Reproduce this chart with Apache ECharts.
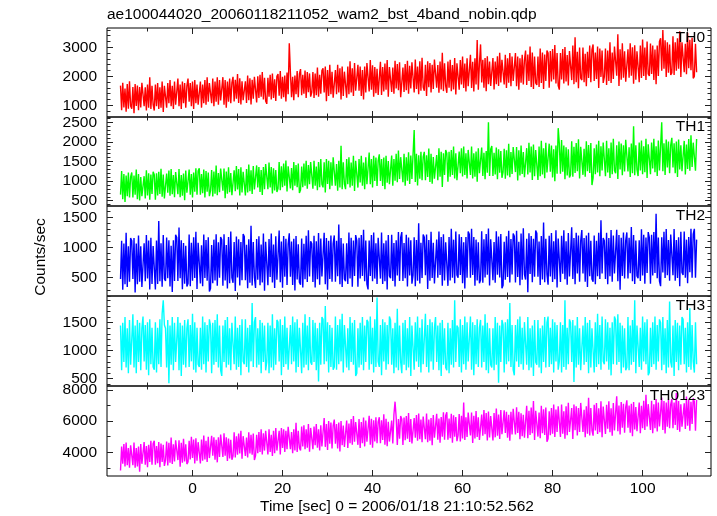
<!DOCTYPE html>
<html><head><meta charset="utf-8">
<script src="https://cdn.jsdelivr.net/npm/echarts@6/dist/echarts.min.js"></script>
<style>html,body{margin:0;padding:0;background:#fff}#c{width:717px;height:516px}</style>
</head><body><div id="c"></div>
<script>
// time grid of the light curves (seconds from 2006/01/18 21:10:52.562)
const tStart = -16, tStep = 0.25;

const th0 = [
1680,830,1780,930,1580,780,1730,880,1830,980,880,1630,730,1730,980,1680,830,1630,930,1780,
1770,970,1620,820,1720,920,1970,870,1670,1020,820,1720,970,1770,870,1620,920,1820,770,1670,
1720,920,1770,1070,1870,970,1670,870,1820,1020,1020,1920,970,1720,870,1820,1070,1770,920,1670,
1920,1120,1770,970,1820,870,1870,1070,1720,1020,970,1820,920,1720,1070,1870,1020,1970,1120,1770,
1770,1070,1920,970,1820,1120,1970,1020,1870,1170,1170,1970,1020,1870,920,1820,1120,1920,1070,1770,
1980,1130,1880,1230,2080,1080,1930,1030,1830,1180,1130,1830,1080,2030,1180,1930,1030,1880,1230,1980,
1950,1100,2000,1250,2050,1300,2150,1200,1950,1150,1050,1950,1300,2050,1200,2100,1250,1900,1150,2000,
2080,1330,2180,1230,1980,1280,2030,1130,2130,1380,3140,2130,1280,1980,1180,2030,1380,2180,1280,2080,
2250,1350,2050,1400,2200,1250,2150,1450,2100,1300,1450,2150,1250,2100,1350,2300,1300,2050,1400,2200,
2280,1440,2340,1140,2220,1320,2400,1380,2160,1260,1260,2220,1380,2400,1440,2280,1200,2340,1320,2160,
2220,1260,2340,1380,2520,1440,2280,1320,2460,1500,1440,2400,1500,2340,1320,2220,1200,2340,1440,2460,
2440,1480,2560,1540,2380,1300,2320,1420,2260,1360,1420,2500,1360,2320,1480,2440,1540,2560,1300,2320,
2360,1460,2300,1400,2540,1580,2420,1520,2480,1280,1340,2300,1460,2420,1520,2540,1400,2360,1580,2480,
2460,1440,2580,1560,2340,1380,2520,1500,2640,1620,1500,2400,1320,2520,1620,2460,1440,2400,1560,2580,
2570,1610,2390,1430,2510,1550,2810,1490,2450,1670,1430,2510,1610,2570,1490,2390,1550,2630,1370,2450,
2500,1540,2560,1720,2680,1600,2440,1480,2620,1660,1660,2740,1600,2500,1480,2620,1720,3250,1540,2440,
3100,1790,2570,1610,2630,1490,2690,1730,2510,1670,1610,2630,1550,2510,1730,2690,1670,2810,1790,2570,
2560,1720,2740,1600,2620,1780,2800,1660,2680,1840,1840,2800,1660,2680,1540,2620,1780,2740,1720,2560,
2890,1700,2750,1840,3030,1630,2820,1560,2680,1770,1700,2680,1630,2960,1770,2820,1560,2750,1840,2890,
2800,1610,2870,1820,2940,1890,3080,1750,2800,1680,1540,2800,1890,2940,1750,3010,1820,2730,1680,2870,
2920,1870,3060,1730,3350,1800,2850,1590,2990,1940,1870,2990,1800,2780,1660,2850,1940,3060,1800,2920,
3100,1840,2820,1910,3030,1600,2960,1980,2890,1770,1980,2960,1700,2890,1840,3170,1770,2820,1910,3030,
3000,2020,3450,1670,2930,1880,3140,1950,2860,1810,1810,2930,1950,3140,2020,3000,1740,3070,1880,2860,
2920,1800,3060,1940,3270,2010,2990,1870,3200,2080,2010,3130,2080,3060,1870,2920,1730,3060,2010,3200,
3310,2190,3600,2260,3240,1980,3170,2120,3100,2050,2120,3380,2050,3170,2190,3310,2260,3550,1980,3170,
3190,2140,3120,2070,3500,2280,3260,2210,3330,1930,2000,3120,2140];

const th1 = [
655,1255,540,1180,465,1145,615,1220,580,1105,1220,580,1145,655,1295,540,1180,505,1105,615,
600,1125,560,1275,635,1200,525,1165,675,1240,1165,525,1200,635,1240,675,1315,600,1165,560,
515,1195,705,1270,630,1305,665,1155,590,1230,1230,665,1305,590,1155,630,1195,515,1270,705,
690,1295,655,1180,580,1220,730,1330,655,1255,1330,655,1180,690,1295,580,1255,730,1220,615,
755,1280,605,1245,680,1395,640,1205,715,1320,1280,755,1320,565,1245,680,1355,715,1205,640,
670,1275,745,1385,785,1310,635,1350,710,1235,1235,635,1310,710,1425,745,1275,670,1385,785,
795,1400,835,1360,720,1285,645,1360,795,1435,1400,795,1475,835,1360,685,1325,760,1285,720,
810,1485,770,1375,845,1450,885,1525,735,1375,1375,810,1335,770,1485,885,1410,845,1450,695,
770,1370,845,1445,880,1520,805,1410,920,1485,1445,805,1520,880,1370,770,1485,845,1560,920,
840,1480,710,1565,925,1520,795,1480,880,1605,1565,880,1435,755,1520,840,1900,795,1480,925,
795,1560,920,1605,835,1475,880,1645,750,1520,1520,835,1560,965,1645,880,1475,795,1605,920,
960,1730,920,1560,835,1645,1005,1600,875,1515,1685,1005,1560,875,1600,790,1645,960,1515,920,
925,1650,885,1565,1010,1695,970,1780,1055,1610,1565,970,1695,885,1610,1010,1735,925,1650,1055,
1105,2300,975,1700,890,1660,1060,1745,1020,1615,1745,1020,1660,1105,1830,975,1700,935,1615,1060,
1070,1665,1025,1835,1110,1750,850,1710,1155,1795,1710,985,1750,1110,1795,1155,1880,1070,1710,1025,
985,1755,1200,1840,1115,1880,1155,1710,1070,1795,1795,1155,1880,1070,1710,1115,1755,985,1840,1200,
1170,1855,1130,1725,1045,1770,1215,2500,1130,1810,1895,1130,1725,1170,1855,1045,1810,1215,1770,1085,
1230,1825,1060,1785,1145,1955,1100,1740,1185,1870,1825,1230,1870,1015,1785,1145,1910,1185,1740,1100,
1075,1840,1170,1980,1220,1885,1030,1935,1125,1790,1790,1030,1885,1125,2030,1170,1840,1075,1980,1220,
1190,1955,1240,1905,1095,1810,1000,1905,1190,2350,1955,1190,2050,1240,1905,1050,1860,1145,1810,1095,
1160,2015,1110,1875,1205,1970,1255,2065,1065,1875,1875,1160,1825,1110,2015,1255,1920,1205,1970,900,
1080,1840,1175,1935,1220,2030,1125,1890,1270,1985,1935,1125,2030,1220,1840,1080,1985,1175,2080,1270,
1200,1915,1055,2010,1295,1960,1150,1915,1245,2055,2010,1245,1865,1105,1960,1200,2400,1150,1915,1295,
1130,1985,1270,2035,1175,1890,1225,2080,1080,1940,1940,1175,1985,1320,2080,1225,1890,1130,2035,1270,
1295,2500,1250,1965,1155,2060,1345,2010,1200,1915,2105,1345,1965,1200,2010,1105,2060,1295,1915,1250,
1215,2025,1170,1930,1310,2075,1265,2170,1360,1980,1930,1265,2075];

const th2 = [
480,1110,300,1065,390,1245,345,1020,435,1155,1110,480,1155,255,1065,390,1200,435,1020,345,
350,1070,440,1205,485,1115,305,1160,395,1025,1025,305,1115,395,1440,440,1070,350,1205,485,
445,1165,490,1120,355,1030,265,1120,445,1210,1165,445,1330,490,1120,310,1075,400,1030,355,
405,1215,360,1080,450,1170,495,1260,315,1080,1080,405,1035,360,1215,495,1125,450,1170,270,
320,1040,410,1130,455,1220,365,1085,500,1175,1130,365,1220,455,1040,320,1175,410,1265,500,
415,1090,280,1180,505,1135,370,1090,460,1225,1180,460,1045,325,1135,415,1360,370,1090,505,
330,1140,465,1185,375,1050,420,1230,285,1095,1095,375,1140,510,1230,420,1050,330,1185,465,
470,1280,425,1100,335,1190,515,1145,380,1055,1235,515,1100,380,1145,290,1190,470,1055,425,
385,1150,340,1060,475,1195,430,1285,520,1105,1060,430,1195,340,1105,475,1240,385,1150,520,
525,1245,390,1155,300,1110,480,1200,435,1065,1200,435,1110,525,1380,390,1155,345,1065,480,
440,1070,395,1250,485,1160,350,1115,530,1205,1115,350,1160,485,1205,530,1295,440,1115,395,
305,1115,530,1205,440,1250,485,1070,395,1160,1160,485,1250,395,1070,440,1115,305,1205,530,
490,1210,445,1075,355,1120,535,1255,445,1165,1255,445,1075,490,1210,355,1165,535,1120,400,
540,1170,360,1125,450,1400,405,1080,495,1215,1170,540,1215,315,1125,450,1260,495,1080,405,
410,1130,500,1265,545,1175,365,1220,455,1085,1085,365,1175,455,1310,500,1130,410,1265,545,
500,1220,545,1175,410,1085,320,1175,500,1265,1220,500,1310,545,1175,365,1130,455,1085,410,
460,1270,415,1135,505,1225,550,1315,370,1135,1135,460,1090,415,1270,550,1180,505,1225,325,
375,1095,465,1185,510,1275,420,1140,555,1230,1185,420,1275,510,1095,375,1230,465,1320,555,
470,1145,260,1235,560,1190,425,1145,515,1280,1235,515,1100,380,1190,470,1415,425,1145,560,
385,1195,520,1240,430,1105,475,1285,340,1150,1150,430,1195,565,1285,475,1105,385,1240,520,
525,1335,480,1155,390,1245,570,1200,435,1110,1290,570,1155,435,1200,345,1245,525,1110,480,
435,1200,390,1110,525,1245,480,1450,570,1155,1110,480,1245,390,1155,525,1290,435,1200,570,
575,1295,440,1205,300,1160,530,1250,485,1115,1250,485,1160,575,1340,440,1205,395,1115,530,
490,1120,445,1300,535,1210,400,1165,580,1255,1165,400,1210,535,1255,580,1560,490,1165,445,
360,1170,585,1260,495,1305,540,1125,450,1215,1215,540,1305,450,1125,495,1170,360,1260,585,
545,1265,500,1130,410,1175,590,1310,500,1220,1310,500,1130];

const th3 = [
1450,650,1500,800,1600,700,1400,600,1550,750,750,1650,700,1450,600,1550,800,1500,650,1400,
1610,810,1460,660,1510,560,1560,760,1410,710,660,1510,610,1410,760,1560,710,1660,1900,1460,
1400,700,1550,420,1450,750,1600,650,1500,800,800,1600,650,1500,550,1450,750,1550,700,1400,
1560,710,1460,810,1660,660,1510,610,1410,760,710,1410,660,1610,760,1510,610,1460,810,1560,
1450,600,1500,750,1550,800,1650,700,1450,650,550,1450,800,1550,700,1600,750,1400,650,1500,
1510,760,1610,660,1410,710,1460,560,1560,810,760,1560,710,1410,610,1460,810,1850,710,1510,
1600,700,1400,750,1550,600,1500,800,1450,650,800,1500,600,1450,700,1650,650,1400,750,1550,
1510,810,1560,560,1460,710,1610,760,1410,660,660,1460,760,1610,810,1510,610,1560,710,1410,
1400,600,1500,700,1650,750,1450,650,1600,800,750,1550,800,1500,650,1400,450,1500,750,1600,
1560,760,1800,810,1510,610,1460,710,1410,660,710,1610,660,1460,760,1560,810,1660,610,1460,
1450,700,1400,650,1600,800,1500,750,1550,550,600,1400,700,1500,750,1600,650,1450,800,1550,
1510,660,1610,760,1410,610,1560,710,1950,810,710,1460,560,1560,810,1510,660,1460,760,1610,
1550,750,1400,600,1500,700,1750,650,1450,800,600,1500,750,1550,650,1400,700,1600,550,1450,
1460,660,1510,810,1610,710,1410,610,1560,760,760,1660,710,1460,610,1560,810,1510,660,1410,
1600,800,1450,650,1500,550,1550,750,1400,700,650,1500,600,1400,750,1550,700,1900,800,1450,
1410,710,1560,610,1460,760,1610,660,1510,810,810,1610,660,1510,560,1460,760,1560,710,1410,
1550,700,1450,800,1650,650,1500,600,1400,750,700,1400,650,1600,750,1500,430,1450,800,1550,
1460,610,1510,760,1560,810,1850,710,1460,660,560,1460,810,1560,710,1610,760,1410,660,1510,
1500,750,1600,650,1400,700,1450,550,1550,800,750,1550,700,1400,600,1450,800,1600,700,1500,
1610,710,1410,760,1560,610,1510,810,1460,660,810,1510,610,1460,710,1900,660,1410,760,1560,
1500,800,1550,440,1450,700,1600,750,1400,650,650,1450,750,1600,800,1500,600,1550,700,1400,
1410,610,1510,710,1660,760,1460,660,1610,810,760,1560,810,1510,660,1410,560,1510,760,1610,
1550,750,1650,800,1500,600,1450,700,1400,650,700,1600,650,1450,750,1550,800,1900,600,1450,
1460,710,1410,660,1610,810,1510,760,1560,560,610,1410,710,1510,760,1610,660,1460,810,1560,
1500,650,1600,750,1400,600,1550,700,1880,800,700,1450,550,1550,800,1500,650,1450,750,1600,
1560,760,1410,610,1510,710,1760,660,1460,810,610,1510,760];

const th0123 = [
2835,4365,3260,4535,3090,4620,3175,4280,3005,4450,4450,3175,4620,3005,4280,3090,4365,2750,4535,3260,
3295,4655,3210,4400,3040,4485,3380,4740,3210,4570,4740,3210,4400,3295,4655,3040,4570,3380,4485,3125,
3500,4690,3160,4605,3330,4945,3245,4520,3415,4775,4690,3500,4775,3075,4605,3330,4860,3415,4520,3245,
3375,4735,3545,4990,3630,4820,3290,4905,3460,4650,4650,3290,4820,3460,5075,3545,4735,3375,4990,3630,
3695,5055,3780,4970,3525,4800,3355,4970,3695,5140,5055,3695,5225,3780,4970,3440,4885,3610,4800,3525,
3760,5290,3675,5035,3845,5205,3930,5375,3590,5035,5035,3760,4950,3675,5290,3930,5120,3845,5205,3505,
3770,5130,3940,5300,4025,5470,3855,5215,4110,5385,5300,3855,5470,4025,5130,3770,5385,3940,5555,4110,
4110,5385,3855,5555,4280,5470,4025,5385,4195,5640,5555,4195,5300,3940,5470,4110,5895,4025,5385,4280,
4120,5650,4375,5735,4205,5480,4290,5820,4035,5565,5565,4205,5650,4460,5820,4290,5480,4120,5735,4375,
4450,6200,4350,5810,4155,6010,4545,5910,4250,5715,6105,4545,5810,4250,5910,4060,6010,4450,5715,4350,
4380,6040,4285,5845,4580,6140,4480,6330,4675,5940,5845,4480,6140,4285,5940,4580,6235,4380,6040,4675,
4785,6345,4490,6150,4300,6050,4690,6250,4590,5955,6250,4590,6050,4785,6440,4490,6150,4395,5955,4690,
4670,6035,4570,6425,7250,6230,4475,6130,4865,6330,6130,4475,6230,4770,6330,4865,6520,4670,6130,4570,
4450,6200,4935,6400,4740,6495,4840,6105,4640,6300,6300,4840,6495,4640,6105,4740,6200,4450,6400,4935,
4910,6470,4810,6175,4615,6270,5005,6565,4810,6370,6565,4810,6175,4910,6470,4615,6370,5005,6270,4710,
5085,6450,4695,6350,4890,7200,4790,6255,4990,6550,6450,5085,6550,4600,6350,4890,6645,4990,6255,4790,
4860,6420,5060,6715,5155,6520,4765,6620,4960,6325,6325,4765,6520,4960,6810,5060,6420,4860,6715,5155,
5140,6700,5235,6600,4940,6405,4750,6600,5140,6795,6700,5140,6890,5235,6600,4845,6500,5040,6405,4940,
5010,6990,4900,6660,5120,6880,5230,7300,4790,6660,6660,5010,6550,4900,6990,5230,6770,5120,6880,4680,
4870,6630,5090,6850,5200,7070,4980,6740,5310,6960,6850,4980,7070,5200,6630,4870,6960,5090,7180,5310,
5190,6840,4860,7060,5410,6950,5080,6840,5300,7170,7060,5300,6730,4970,6950,5190,7500,5080,6840,5410,
5070,7050,5400,7160,5180,6830,5290,7270,4960,6940,6940,5180,7050,5510,7270,5290,6830,5070,7160,5400,
5470,7600,5360,7010,5140,7230,5580,7120,5250,6900,7340,5580,7010,5250,7120,5030,7230,5470,6900,5360,
5330,7200,5220,6980,5550,7310,5440,7700,5660,7090,6980,5440,7310,5220,7090,5550,7420,5330,7200,5660,
5760,7520,5430,7300,5210,7190,5650,7410,5540,7080,7410,5540,7190,5760,7800,5430,7300,5320,7080,5650,
5600,7140,5490,7580,5710,7360,5380,7250,5820,7470,7250,5380,7360];

const panelNames = ['TH0','TH1','TH2','TH3','TH0123'];
const yMin = [597, 365, 197, 370, 2478];
const yMax = [3666, 2635, 1687, 1977, 8257];
const majorFrom = [1000, 500, 500, 500, 4000];
const majorTo   = [3000, 2500, 1500, 1500, 8000];
const majorStep = [1000, 500, 500, 500, 2000];
const minorFrom = [600, 400, 200, 400, 3000];
const minorTo   = [3600, 2600, 1600, 1900, 8000];
const minorStep = [200, 100, 100, 100, 1000];
const xMin = -19, xMax = 115.2;
const xMajor = [0, 100, 20];
const xMinor = [-10, 110, 20];
const titleText = 'ae100044020_20060118211052_wam2_bst_4band_nobin.qdp';
const xTitle = 'Time [sec] 0 = 2006/01/18 21:10:52.562';
const yTitle = 'Counts/sec';

const seriesData = [th0, th1, th2, th3, th0123];
const colors = ['#ff0000', '#00ff00', '#0000ff', '#00ffff', '#ff00ff'];

const L = 107, R = 711, W = R - L;
const tops = [28, 117, 206, 296, 386], bottoms = [117, 206, 296, 386, 476];
const FONT = '"Liberation Sans", Arial, Helvetica, sans-serif';
const FS = 15.5;
const TICK = '#222';
const fmt = v => String(v);
const xPx = v => L + (v - xMin) / (xMax - xMin) * W;

const grid = [], xAxis = [], yAxis = [], series = [], graphic = [];

for (let i = 0; i < 5; i++) {
  const top = tops[i], h = bottoms[i] - tops[i];
  const yPx = v => bottoms[i] - (v - yMin[i]) / (yMax[i] - yMin[i]) * h;
  const g = grid.length;
  grid.push({left: L, top: top, width: W, height: h, show: true, borderColor: '#000', borderWidth: 1, backgroundColor: 'transparent'});
  xAxis.push({gridIndex: g, type: 'value', min: xMin, max: xMax, show: false, axisLine: {onZero: false}});
  yAxis.push({gridIndex: g, type: 'value', min: yMin[i], max: yMax[i], show: false, axisLine: {onZero: false}});
  series.push({
    type: 'line', xAxisIndex: xAxis.length - 1, yAxisIndex: yAxis.length - 1,
    data: seriesData[i].map((v, k) => [tStart + k * tStep, v]),
    showSymbol: false, symbol: 'none', clip: true, silent: true, animation: false,
    lineStyle: {color: colors[i], width: 1.4}, itemStyle: {color: colors[i]}
  });
  [[xMajor, 6, i === 4], [xMinor, 3.5, false]].forEach(([spec, len, lab]) => {
    const gi = grid.length;
    const a = xPx(spec[0]), b = xPx(spec[1]);
    grid.push({left: a, top: top, width: b - a, height: h, show: false});
    ['bottom', 'top'].forEach(pos => {
      xAxis.push({gridIndex: gi, type: 'value', position: pos, min: spec[0], max: spec[1], interval: spec[2],
        axisLine: {show: false, onZero: false}, splitLine: {show: false},
        axisTick: {show: true, inside: true, length: len, lineStyle: {color: TICK, width: 1}},
        axisLabel: {show: lab && pos === 'bottom', formatter: fmt, color: '#000', fontSize: FS, fontFamily: FONT, margin: 5}});
    });
    yAxis.push({gridIndex: gi, type: 'value', show: false, min: 0, max: 1, axisLine: {onZero: false}});
  });
  [[majorFrom[i], majorTo[i], majorStep[i], 6, true], [minorFrom[i], minorTo[i], minorStep[i], 3.5, false]].forEach(([f, t, s, len, lab]) => {
    const gi = grid.length;
    const a = yPx(t), b = yPx(f);
    grid.push({left: L, top: a, width: W, height: b - a, show: false});
    xAxis.push({gridIndex: gi, type: 'value', show: false, min: 0, max: 1, axisLine: {onZero: false}});
    ['left', 'right'].forEach(pos => {
      yAxis.push({gridIndex: gi, type: 'value', position: pos, min: f, max: t, interval: s,
        axisLine: {show: false, onZero: false}, splitLine: {show: false},
        axisTick: {show: true, inside: true, length: len, lineStyle: {color: TICK, width: 1}},
        axisLabel: {show: lab && pos === 'left', formatter: fmt, color: '#000', fontSize: FS, fontFamily: FONT, margin: 10}});
    });
  });
  graphic.push({type: 'text', x: 705, y: top + 10, z: 100,
    style: {text: panelNames[i], fill: '#000', font: FS + 'px ' + FONT, textAlign: 'right', align: 'right', textVerticalAlign: 'middle', verticalAlign: 'middle'}});
}

graphic.push({type: 'text', x: 107, y: 14.5,
  style: {text: titleText, fill: '#000', font: FS + 'px ' + FONT, textAlign: 'left', align: 'left', textVerticalAlign: 'middle', verticalAlign: 'middle'}});
graphic.push({type: 'text', x: 260, y: 506.5,
  style: {text: xTitle, fill: '#000', font: FS + 'px ' + FONT, textAlign: 'left', align: 'left', textVerticalAlign: 'middle', verticalAlign: 'middle'}});
graphic.push({type: 'text', x: 41, y: 257, rotation: Math.PI / 2,
  style: {text: yTitle, fill: '#000', font: FS + 'px ' + FONT, textAlign: 'center', align: 'center', textVerticalAlign: 'middle', verticalAlign: 'middle'}});

const chart = echarts.init(document.getElementById('c'), null, {renderer: 'canvas'});
chart.setOption({
  animation: false,
  backgroundColor: '#fff',
  grid: grid, xAxis: xAxis, yAxis: yAxis, series: series, graphic: graphic
});
</script>
</body></html>
